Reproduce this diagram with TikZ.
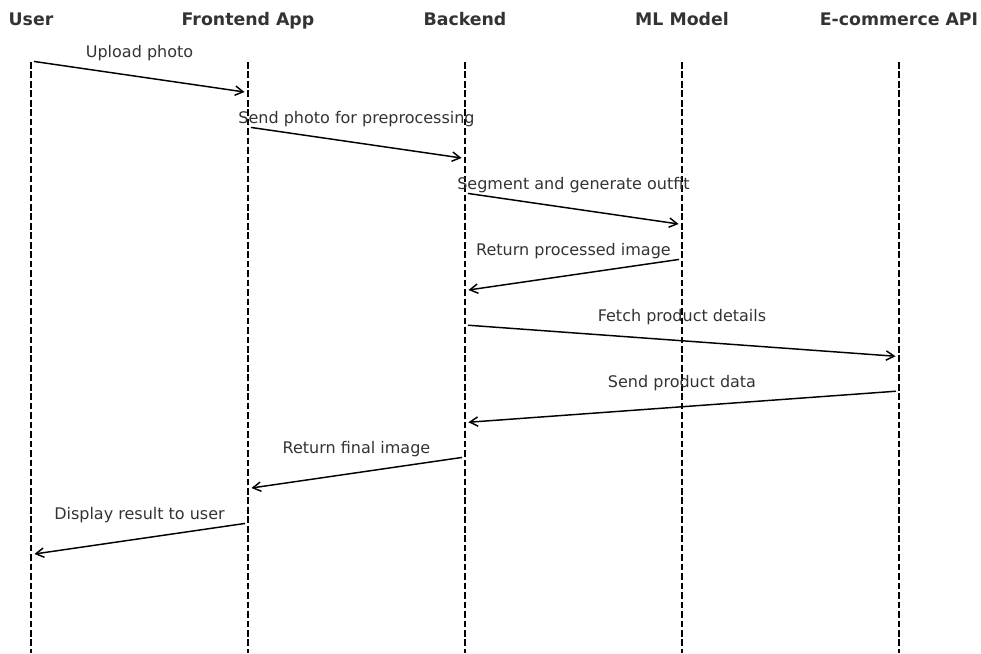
\documentclass[tikz,border=0pt]{standalone}
\usepackage{fontspec}
\setmainfont{DejaVu Sans}
\usepackage{tikz}
\usetikzlibrary{arrows.meta,calc}
\definecolor{clrT}{RGB}{51,51,51}
\tikzset{
  actor/.style={font=\bfseries\fontsize{13}{15}\selectfont,text=clrT,
    anchor=base,inner sep=0pt},
  lifeline/.style={line width=1.15pt,dash pattern=on 5pt off 2.1pt,color=black},
  msg/.style={-{Straight Barb[length=6pt,width=7pt]},line width=1.1pt,
    color=black,shorten <=2.25pt,shorten >=2.6pt},
  msglab/.style={font=\fontsize{12}{14}\selectfont,text=clrT,
    anchor=base,inner sep=0pt}
}

\begin{document}
\begin{tikzpicture}[x=0.75pt,y=-0.75pt]
  \useasboundingbox (0,0) rectangle (981,653);

  % participants
  \node[actor] (user)  at (31,26)  {User};
  \node[actor] (front) at (248,26) {Frontend App};
  \node[actor] (back)  at (465,26) {Backend};
  \node[actor] (ml)    at (682,26) {ML Model};
  \node[actor] (api)   at (899,26) {E-commerce API};

  % lifelines
  \foreach \a in {user,front,back,ml,api}{
    \coordinate (\a-top) at (\a |- 0,62);
    \coordinate (\a-bot) at (\a |- 0,653);
    \draw[lifeline] (\a-top) -- (\a-bot);
  }

  % messages
  \foreach \i/\a/\b/\t in {1/user/front/Upload photo,
      2/front/back/Send photo for preprocessing,
      3/back/ml/Segment and generate outfit,
      4/ml/back/Return processed image,
      5/back/api/Fetch product details,
      6/api/back/Send product data,
      7/back/front/Return final image,
      8/front/user/Display result to user}{
    \pgfmathsetmacro\ys{61+66*(\i-1)}
    \pgfmathsetmacro\ye{\ys+31.5}
    \coordinate (m\i-s) at (\a |- 0,\ys);
    \coordinate (m\i-e) at (\b |- 0,\ye);
    \path (m\i-s) -- (m\i-e) coordinate[pos=.5] (m\i-c);
    \draw[msg] (m\i-s) -- (m\i-e);
    \node[msglab,yshift=3pt] (lab\i) at (m\i-c |- m\i-s) {\t};
  }
\end{tikzpicture}
\end{document}
